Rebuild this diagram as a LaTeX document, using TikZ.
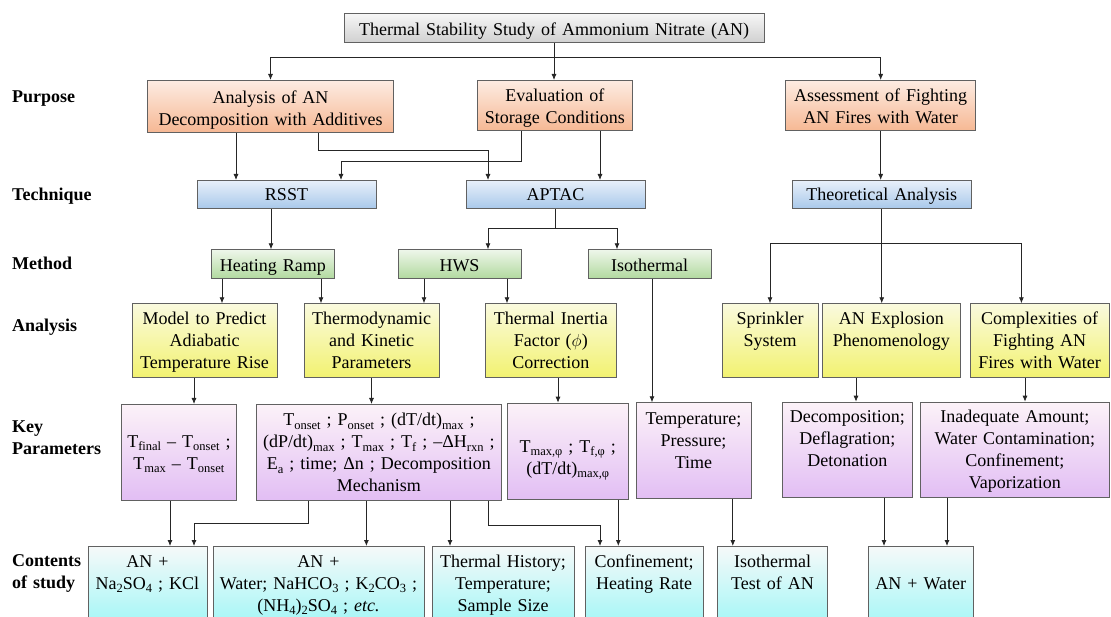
\documentclass[tikz,border=0pt]{standalone}
\usepackage{fontspec}
\setmainfont{Liberation Serif}
\usetikzlibrary{arrows.meta}
\newcommand\lowsub[1]{\raisebox{-3.5pt}{\fontsize{12.5}{12}\selectfont #1}}
\definecolor{gyT}{RGB}{246,246,246}\definecolor{gyB}{RGB}{208,208,208}
\definecolor{orT}{RGB}{253,236,226}\definecolor{orB}{RGB}{246,184,148}
\definecolor{blT}{RGB}{232,240,250}\definecolor{blB}{RGB}{168,200,234}
\definecolor{grT}{RGB}{238,246,234}\definecolor{grB}{RGB}{178,218,160}
\definecolor{yeT}{RGB}{250,250,222}\definecolor{yeB}{RGB}{242,242,112}
\definecolor{pkT}{RGB}{252,242,248}\definecolor{pkB}{RGB}{226,190,244}
\definecolor{cyT}{RGB}{246,249,249}\definecolor{cyB}{RGB}{140,246,246}
\tikzset{
  box/.style={draw=black!62, line width=0.9pt, inner sep=0pt, align=center,
    font=\fontsize{18}{22}\selectfont, anchor=north},
  titlebox/.style={box, top color=gyT, bottom color=gyB},
  pbox/.style={box, top color=orT, bottom color=orB},
  tbox/.style={box, top color=blT, bottom color=blB},
  mbox/.style={box, top color=grT, bottom color=grB},
  abox/.style={box, top color=yeT, bottom color=yeB},
  kbox/.style={box, top color=pkT, bottom color=pkB},
  cbox/.style={box, top color=cyT, bottom color=cyB},
  ln/.style={draw=black!85, line width=0.8pt},
  ar/.style={ln, -{Latex[length=6pt,width=5pt]}},
  lbl/.style={font=\fontsize{18}{22}\selectfont\bfseries, anchor=base west,
    align=left, text width=120pt, inner sep=0pt},
}
\begin{document}
\begin{tikzpicture}[x=1pt,y=-1pt]
\useasboundingbox (0,0) rectangle (1111,617);
\clip (0,0) rectangle (1111,617);
% labels
\node[lbl] (lp) at (12,102.7) {Purpose};
\node[lbl] (lt) at (12,201) {Technique};
\node[lbl] (lm) at (12,270) {Method};
\node[lbl] (la) at (12,331.7) {Analysis};
\node[lbl] (lk) at (12,432) {Key\\Parameters};
\node[lbl] (lc) at (12,566.7) {Contents\\of study};
% title
\node[titlebox, text width=420pt, text height=21.7pt, text depth=7.3pt] (title) at (554,13.3) {Thermal Stability Study of Ammonium Nitrate (AN)};
% purpose
\node[pbox, text width=246pt, text height=22.7pt, text depth=29pt] (p1) at (270.5,80) {Analysis of AN\\Decomposition with Additives};
\node[pbox, text width=155.5pt, text height=21.5pt, text depth=28.5pt] (p2) at (554.75,80) {Evaluation of\\Storage Conditions};
\node[pbox, text width=190pt, text height=21pt, text depth=29pt] (p3) at (880.7,80) {Assessment of Fighting\\AN Fires with Water};
% technique
\node[tbox, text width=179pt, text height=20.3pt, text depth=8pt] (t1) at (286.5,180) {RSST};
\node[tbox, text width=179pt, text height=20.3pt, text depth=8pt] (t2) at (555.5,180) {APTAC};
\node[tbox, text width=178.5pt, text height=20.3pt, text depth=8pt] (t3) at (881.75,180) {Theoretical Analysis};
% method
\node[mbox, text width=123.6pt, text height=21.7pt, text depth=6.7pt] (m1) at (272.8,249.3) {Heating Ramp};
\node[mbox, text width=123pt, text height=21.7pt, text depth=6.7pt] (m2) at (459.5,249.3) {HWS};
\node[mbox, text width=123pt, text height=21.7pt, text depth=6.7pt] (m3) at (649.5,249.3) {Isothermal};
% analysis
\node[abox, text width=145pt, text height=21pt, text depth=53pt] (a1) at (204.5,303.3) {Model to Predict\\Adiabatic\\Temperature Rise};
\node[abox, text width=135pt, text height=21pt, text depth=53pt] (a2) at (371.5,303.3) {Thermodynamic\\and Kinetic\\Parameters};
\node[abox, text width=130.5pt, text height=21pt, text depth=53pt] (a3) at (550.75,303.3) {Thermal Inertia\\Factor ($\phi$)\\Correction};
\node[abox, text width=96pt, text height=21pt, text depth=53pt] (a4) at (770,303.3) {Sprinkler\\System};
\node[abox, text width=138.7pt, text height=21pt, text depth=53pt] (a5) at (891.35,303.3) {AN Explosion\\Phenomenology};
\node[abox, text width=139pt, text height=21pt, text depth=53pt] (a6) at (1039.5,303.3) {Complexities of\\Fighting AN\\Fires with Water};
% key parameters
\node[kbox, text width=115pt, text height=42.7pt, text depth=53pt] (k1) at (178.9,404) {T\lowsub{final} – T\lowsub{onset} ;\\T\lowsub{max} – T\lowsub{onset}};
\node[kbox, text width=245pt, text height=21.3pt, text depth=74.4pt] (k2) at (378.9,404) {T\lowsub{onset} ; P\lowsub{onset} ; (dT/dt)\lowsub{max} ;\\(dP/dt)\lowsub{max} ; T\lowsub{max} ; T\lowsub{f} ; –ΔH\lowsub{rxn} ;\\E\lowsub{a} ; time; Δn ; Decomposition\\Mechanism};
\node[kbox, text width=120.5pt, text height=49pt, text depth=47.3pt] (k3) at (567.75,402.7) {T\lowsub{max,φ} ; T\lowsub{f,φ} ;\\(dT/dt)\lowsub{max,φ}};
\node[kbox, text width=115pt, text height=21.4pt, text depth=74.6pt] (k4) at (693.5,402.3) {Temperature;\\Pressure;\\Time};
\node[kbox, text width=129.5pt, text height=20.3pt, text depth=74.7pt] (k5) at (847.25,401.7) {Decomposition;\\Deflagration;\\Detonation};
\node[kbox, text width=188.3pt, text height=20.3pt, text depth=74.7pt] (k6) at (1014.85,401.7) {Inadequate Amount;\\Water Contamination;\\Confinement;\\Vaporization};
% contents
\node[cbox, text width=119pt, text height=20.7pt, text depth=80pt] (c1) at (147.5,546) {AN +\\Na\lowsub{2}SO\lowsub{4} ; KCl};
\node[cbox, text width=211pt, text height=20.7pt, text depth=80pt] (c2) at (318.5,546) {AN +\\Water; NaHCO\lowsub{3} ; K\lowsub{2}CO\lowsub{3} ;\\(NH\lowsub{4})\lowsub{2}SO\lowsub{4} ; \textit{etc.}};
\node[cbox, text width=142pt, text height=20.7pt, text depth=80pt] (c3) at (503,546) {Thermal History;\\Temperature;\\Sample Size};
\node[cbox, text width=118pt, text height=20.7pt, text depth=80pt] (c4) at (644,546) {Confinement;\\Heating Rate};
\node[cbox, text width=110pt, text height=20.7pt, text depth=80pt] (c5) at (772.5,546) {Isothermal\\Test of AN};
\node[cbox, text width=104.4pt, text height=43.3pt, text depth=60pt] (c6) at (920.8,546) {AN + Water};
% connectors
\draw[ar] (title.south) -- (title.south |- p2.north);
\coordinate (j0) at ([yshift=-14.4pt]title.south);
\draw[ar] (j0) -| (p1.north);
\draw[ar] (j0) -| (p3.north);
\draw[ar] ([xshift=-34.5pt]p1.south) -- ([xshift=-50.5pt]t1.north);
\draw[ar] ([xshift=48.1pt]p1.south) -- ++(0,17.6) -| ([xshift=-67.5pt]t2.north);
\draw[ar] ([xshift=-33.75pt]p2.south) -- ++(0,31) -| ([xshift=54.5pt]t1.north);
\draw[ar] ([xshift=45.25pt]p2.south) -- ([xshift=44.5pt]t2.north);
\draw[ar] (p3.south) -- (p3.south |- t3.north);
\draw[ar] ([xshift=-15.5pt]t1.south) -- ([xshift=-1.8pt]m1.north);
\draw[ln] (t2.south) -- ++(0,19.7) coordinate (j2);
\draw[ar] (j2) -| ([xshift=28.5pt]m2.north);
\draw[ar] (j2) -| ([xshift=-32.5pt]m3.north);
\draw[ar] (t3.south) -- (t3.south |- a5.north);
\coordinate (j3) at ([yshift=-34.4pt]t3.south);
\draw[ar] (j3) -| (a4.north);
\draw[ar] (j3) -| ([xshift=-18.1pt]a6.north);
\draw[ar] ([xshift=-50.8pt]m1.south) -- ([xshift=17.5pt]a1.north);
\draw[ar] ([xshift=48.2pt]m1.south) -- ([xshift=-50.5pt]a2.north);
\draw[ar] ([xshift=-35.5pt]m2.south) -- ([xshift=52.5pt]a2.north);
\draw[ar] ([xshift=47.5pt]m2.south) -- ([xshift=-43.75pt]a3.north);
\draw[ar] ([xshift=2.5pt]m3.south) -- ([xshift=-41.5pt]k4.north);
\draw[ar] ([xshift=-10.5pt]a1.south) -- ([xshift=15.1pt]k1.north);
\draw[ar] (a2.south) -- (a2.south |- k2.north);
\draw[ar] ([xshift=7.25pt]a3.south) -- ([xshift=-9.75pt]k3.north);
\draw[ar] ([xshift=-35.35pt]a5.south) -- ([xshift=8.75pt]k5.north);
\draw[ar] ([xshift=-14.5pt]a6.south) -- ([xshift=10.15pt]k6.north);
\draw[ar] ([xshift=-8.9pt]k1.south) -- ([xshift=22.5pt]c1.north);
\draw[ar] ([xshift=-70.3pt]k2.south) -- ++(0,22.6) -| ([xshift=46.5pt]c1.north);
\draw[ar] ([xshift=-12.5pt]k2.south) -- ([xshift=47.9pt]c2.north);
\draw[ar] ([xshift=71.1pt]k2.south) -- ([xshift=-53pt]c3.north);
\draw[ar] ([xshift=109.1pt]k2.south) -- ++(0,24.3) -| ([xshift=-44pt]c4.north);
\draw[ar] ([xshift=50.55pt]k3.south) -- ([xshift=-25.7pt]c4.north);
\draw[ar] ([xshift=39.3pt]k4.south) -- ([xshift=-39.7pt]c5.north);
\draw[ar] ([xshift=36.75pt]k5.south) -- ([xshift=-36.8pt]c6.north);
\draw[ar] ([xshift=-67.85pt]k6.south) -- ([xshift=26.2pt]c6.north);
\end{tikzpicture}
\end{document}
